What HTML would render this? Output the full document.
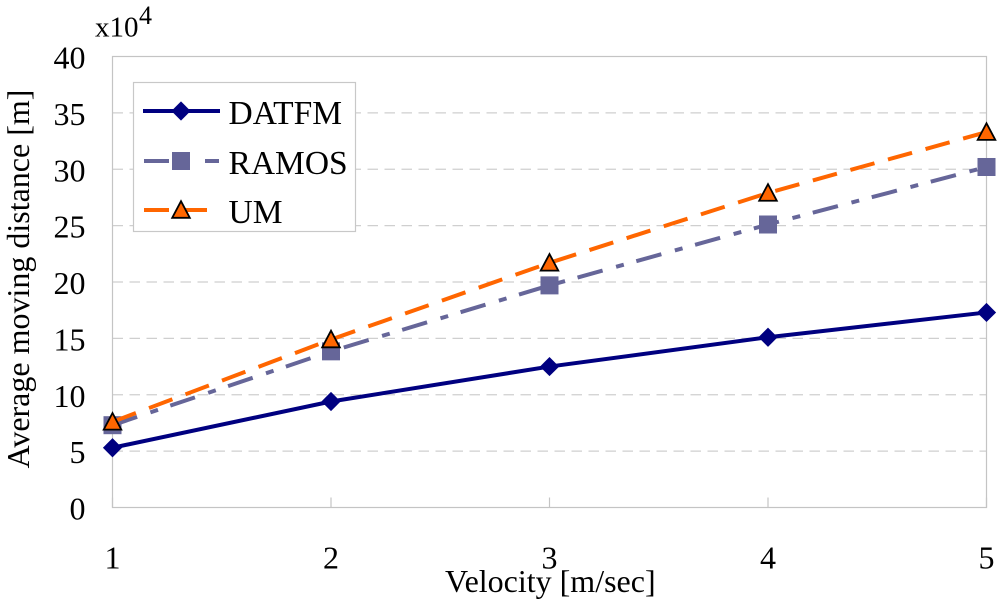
<!DOCTYPE html>
<html>
<head>
<meta charset="utf-8">
<style>
html,body{margin:0;padding:0;background:#fff;width:1000px;height:609px;overflow:hidden}
svg{display:block}
text{font-family:"Liberation Serif",serif;fill:#000}
</style>
</head>
<body>
<svg id="chart" width="1000" height="609" viewBox="0 0 1000 609" xmlns="http://www.w3.org/2000/svg"></svg>
<script>
var categories = [1, 2, 3, 4, 5];
var yTicks = [0, 5, 10, 15, 20, 25, 30, 35, 40];
var datfmValues = [5.3, 9.4, 12.5, 15.1, 17.3];
var ramosValues = [7.3, 13.85, 19.7, 25.1, 30.2];
var umValues = [7.6, 14.9, 21.7, 27.9, 33.3];

var NS = 'http://www.w3.org/2000/svg';
var svg = document.getElementById('chart');
var L = 112.5, R = 986.5, T = 56.5, B = 507.5;
function xPos(v){ return L + (v - categories[0]) / (categories[categories.length-1] - categories[0]) * (R - L); }
function yPos(v){ return B - v / 40 * (B - T); }
function mk(tag, attrs, parent){
  var e = document.createElementNS(NS, tag);
  for (var k in attrs) e.setAttribute(k, attrs[k]);
  (parent || svg).appendChild(e);
  return e;
}
function marker(kind, x, y, parent){
  if (kind === 'diamond') {
    return mk('polygon', {points:x+','+(y-9.6)+' '+(x+9.6)+','+y+' '+x+','+(y+9.6)+' '+(x-9.6)+','+y, fill:'#000080'}, parent);
  }
  if (kind === 'square') {
    return mk('rect', {x:x-9, y:y-9, width:18, height:18, fill:'#666699'}, parent);
  }
  return mk('polygon', {points:x+','+(y-8.8)+' '+(x+8.8)+','+(y+7.8)+' '+(x-8.8)+','+(y+7.8), fill:'#ff6600', stroke:'#000', 'stroke-width':1.8, 'stroke-linejoin':'miter'}, parent);
}

// grid
var i, el;
yTicks.forEach(function(t){
  if (t === 0 || t === 40) return;
  el = mk('line', {x1:L, x2:R, y1:yPos(t), y2:yPos(t), stroke:'#cfcfcf', 'stroke-width':1.2, 'stroke-dasharray':'10.5 6.5'});
  
  
});
// plot frame
el = mk('rect', {x:L, y:T, width:R-L, height:B-T, fill:'none', stroke:'#c4c4c4', 'stroke-width':1.2});


// x ticks
categories.forEach(function(c){
  el = mk('line', {x1:xPos(c), x2:xPos(c), y1:B-10, y2:B, stroke:'#c4c4c4', 'stroke-width':1.2});
  
  
  el = mk('text', {x:xPos(c), y:568.5, 'text-anchor':'middle', 'font-size':32});
  el.textContent = c;
  
  
});
// y tick labels
yTicks.forEach(function(t){
  el = mk('text', {x:85.5, y:yPos(t)+12, 'text-anchor':'end', 'font-size':32});
  el.textContent = t;
  
  
});

// series
var seriesNames = ['RAMOS', 'UM', 'DATFM'];
var seriesData = [ramosValues, umValues, datfmValues];
var seriesColors = ['#666699', '#ff6600', '#000080'];
var seriesDash = ['26 14 8 13', '25 14', ''];
var seriesMarkers = ['square', 'triangle', 'diamond'];
seriesNames.forEach(function(name, s){
  var g = mk('g', {});
  
  
  var pts = seriesData[s].map(function(v, j){ return xPos(categories[j]) + ',' + yPos(v); }).join(' ');
  var attrs = {points:pts, fill:'none', stroke:seriesColors[s], 'stroke-width':4};
  if (seriesDash[s]) attrs['stroke-dasharray'] = seriesDash[s];
  var line = mk('polyline', attrs, g);
  
  
  seriesData[s].forEach(function(v, j){
    var m = marker(seriesMarkers[s], xPos(categories[j]), yPos(v), g);
    
    
  });
});

// legend
var lg = mk('g', {});


mk('rect', {x:133.5, y:82.5, width:222, height:149, fill:'#fff', stroke:'#c8c8c8', 'stroke-width':1.2}, lg);
var legendNames = ['DATFM', 'RAMOS', 'UM'];
var legendKinds = ['diamond', 'square', 'triangle'];
var legendColors = ['#000080', '#666699', '#ff6600'];
var legendDash = ['', '25 36 14 0', '25 13'];
var legendStart = [143, 144, 144];
var legendEnd = [220, 219, 208];
var legendY = [111, 161, 210];
legendNames.forEach(function(name, n){
  var e = mk('g', {}, lg);
  
  
  var la = {x1:legendStart[n], x2:legendEnd[n], y1:legendY[n], y2:legendY[n], stroke:legendColors[n], 'stroke-width':4};
  if (legendDash[n]) la['stroke-dasharray'] = legendDash[n];
  mk('line', la, e);
  marker(legendKinds[n], 181, legendY[n], e);
  var t = mk('text', {x:228.5, y:legendY[n]+13, 'font-size':33.5}, e);
  t.textContent = name;
});

// axis titles
el = mk('text', {x:445, y:592, 'font-size':32});
el.textContent = 'Velocity [m/sec]';


el = mk('text', {x:0, y:0, 'font-size':32, 'text-anchor':'middle', transform:'translate(29,279) rotate(-90)'});
el.textContent = 'Average moving distance [m]';


el = mk('text', {x:95, y:36.5, 'font-size':29});
el.textContent = 'x10';


el = mk('text', {x:139, y:24, 'font-size':26});
el.textContent = '4';


</script>
</body>
</html>
